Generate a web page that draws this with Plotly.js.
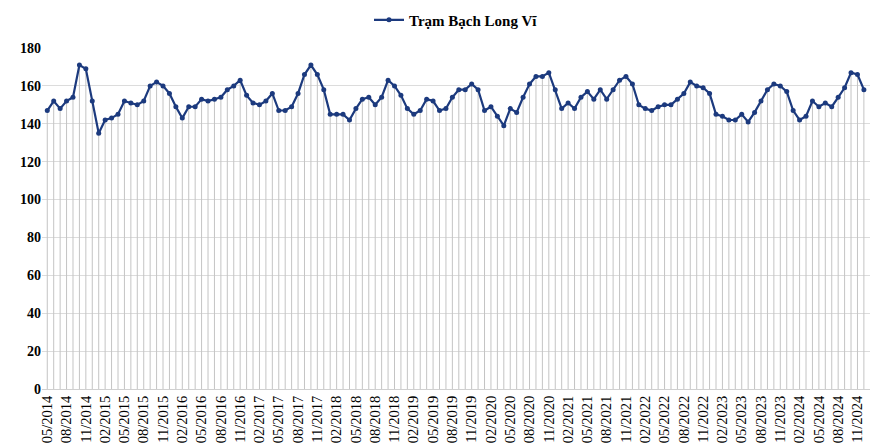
<!DOCTYPE html>
<html>
<head>
<meta charset="utf-8">
<script src="https://cdn.plot.ly/plotly-3.0.1.min.js"></script>
<style>html,body{margin:0;padding:0;background:#fff;}#chart{width:873px;height:445px;}</style>
</head>
<body>
<div id="chart"></div>
<script>
// Monthly values 05/2014 .. 12/2024
const startYear = 2014, startMonth = 5, nMonths = 128;
const values = [
  147,152,148,152,154,171,169,152,
  135,142,143,145,152,151,150,152,160,162,160,156,
  149,143,149,149,153,152,153,154,158,160,163,155,
  151,150,152,156,147,147,149,156,166,171,166,158,
  145,145,145,142,148,153,154,150,154,163,160,155,
  148,145,147,153,152,147,148,154,158,158,161,158,
  147,149,144,139,148,146,154,161,165,165,167,158,
  148,151,148,154,157,153,158,153,158,163,165,161,
  150,148,147,149,150,150,153,156,162,160,159,156,
  145,144,142,142,145,141,146,152,158,161,160,157,
  147,142,144,152,149,151,149,154,159,167,166,158
];
const months = [];
for (let i = 0; i < nMonths; i++) {
  const m = (startMonth - 1 + i) % 12 + 1;
  const y = startYear + Math.floor((startMonth - 1 + i) / 12);
  months.push((m < 10 ? '0' : '') + m + '/' + y);
}
const tickLabels = months.filter((_, i) => i % 3 === 0);
const seriesName = 'Trạm Bạch Long Vĩ';
const SERIF = "Liberation Serif";

const dropLines = {
  x: months, y: values, type: 'scatter', mode: 'markers',
  marker: {size: 1, color: 'rgba(0,0,0,0)'},
  error_y: {type: 'data', symmetric: false, array: values.map(() => 0), arrayminus: values,
            thickness: 1, width: 0, color: '#c4c4c4'},
  showlegend: false, hoverinfo: 'skip'
};
const main = {
  x: months, y: values, type: 'scatter', mode: 'lines+markers', name: seriesName,
  line: {color: '#1c3a7e', width: 2.2},
  marker: {color: '#1c3a7e', size: 5}
};
const layout = {
  width: 873, height: 445,
  margin: {l: 42, r: 3, t: 48, b: 56},
  paper_bgcolor: '#fff', plot_bgcolor: '#fff',
  font: {family: SERIF, color: '#000'},
  showlegend: true,
  legend: {orientation: 'h', x: 0.5, xanchor: 'center', yref: 'container', y: 0.955, yanchor: 'middle',
           font: {size: 15, family: SERIF, weight: 'bold', color: '#000'}},
  xaxis: {type: 'category', range: [-0.82, 127.95], tickmode: 'array', tickvals: tickLabels, ticktext: tickLabels,
          tickangle: -90, tickfont: {size: 14.5, family: SERIF, color: '#000'}, showgrid: false, showline: true,
          linecolor: '#d0d0d0', linewidth: 1, ticks: '', zeroline: false, automargin: false},
  yaxis: {range: [0, 180], dtick: 20, tickfont: {size: 14, family: SERIF, color: '#000', weight: 'bold'},
          gridcolor: '#dcdcdc', gridwidth: 1, zeroline: false, showline: false, ticks: '', automargin: false},
};
Plotly.newPlot('chart', [dropLines, main], layout, {displayModeBar: false, staticPlot: true});
</script>
</body>
</html>
